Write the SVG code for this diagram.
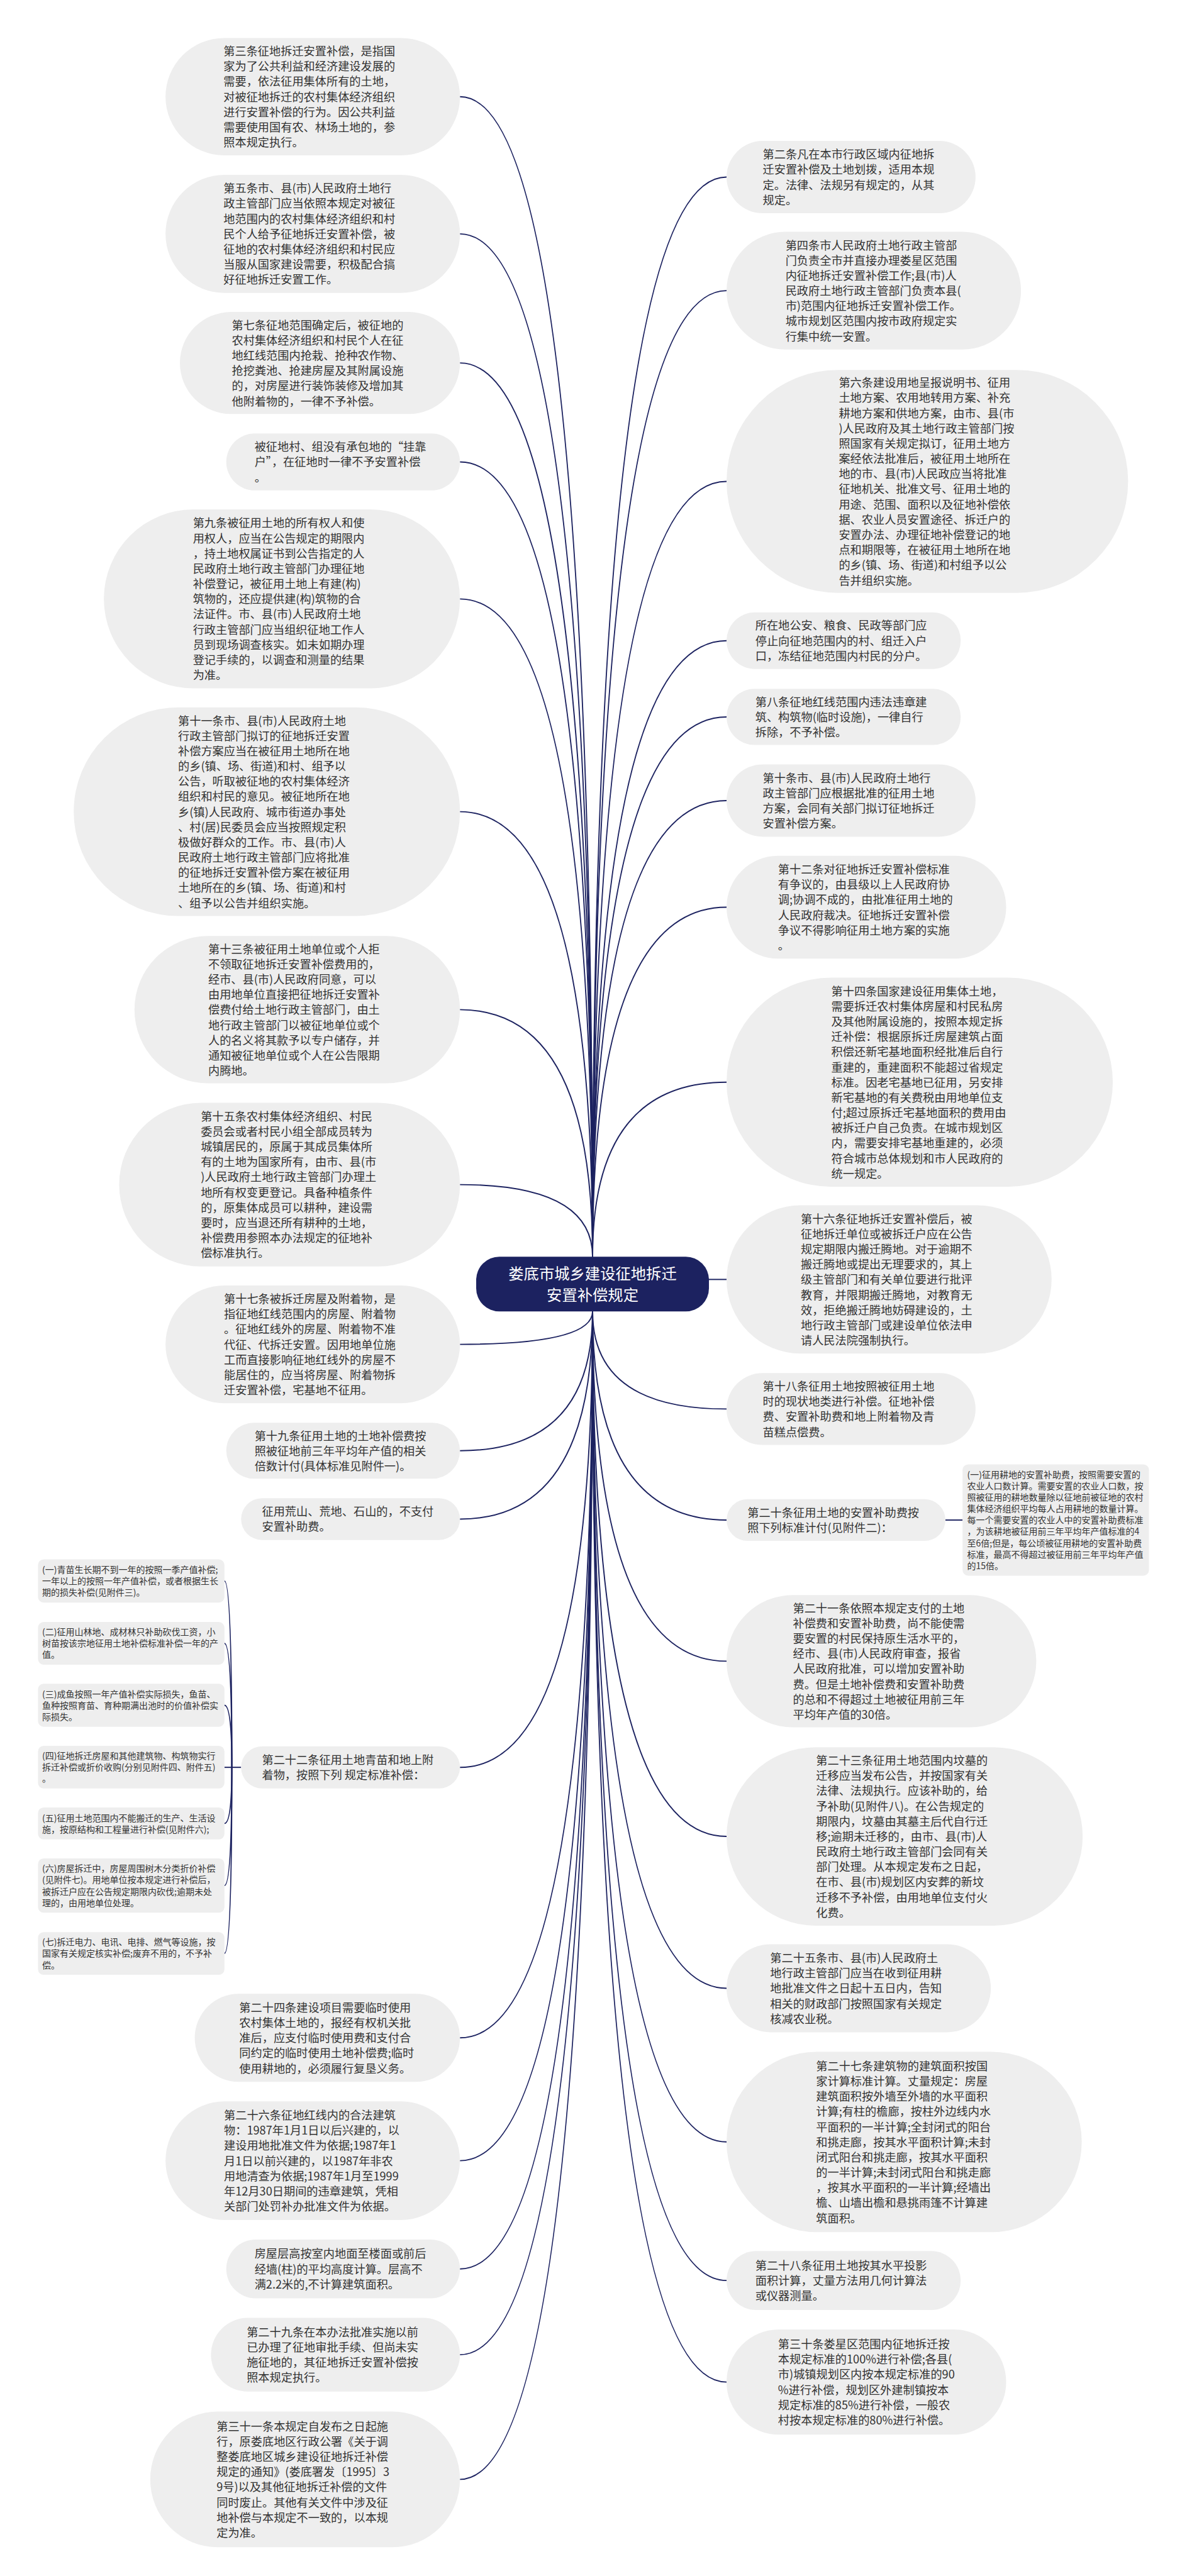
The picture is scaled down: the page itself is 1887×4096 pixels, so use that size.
<svg xmlns="http://www.w3.org/2000/svg" width="1887" height="4096" viewBox="0 0 1887 4096">
<style>
.n rect{fill:#eeeeee}
.s rect{fill:#eeeeee}
.t{font-family:"Noto Sans CJK SC","Noto Sans",sans-serif;font-size:24.7px;fill:#333333}
.st{font-family:"Noto Sans CJK SC","Noto Sans",sans-serif;font-size:19px;fill:#333333}
.rt{font-family:"Noto Sans CJK SC","Noto Sans",sans-serif;font-size:33px;fill:#ffffff}
.c path{fill:none;stroke:#1c2260;stroke-width:2.6}
</style>
<rect width="1887" height="4096" fill="#ffffff"/>
<g transform="scale(0.7371)">
<g id="connectors" class="c">
<path d="M1278 2711 Q1278 208.5 992 208.5"/>
<path d="M1278 2711 Q1278 504.5 992 504.5"/>
<path d="M1278 2711 Q1278 783 992 783"/>
<path d="M1278 2711 Q1278 996.5 992 996.5"/>
<path d="M1278 2711 Q1278 1292 992 1292"/>
<path d="M1278 2711 Q1278 1751 992 1751"/>
<path d="M1278 2711 Q1278 2178 992 2178"/>
<path d="M1278 2711 Q1278 2555.5 992 2555.5"/>
<path d="M1278 2829 Q1278 2900 992 2900"/>
<path d="M1278 2829 Q1278 3129.5 992 3129.5"/>
<path d="M1278 2829 Q1278 3277 992 3277"/>
<path d="M1278 2829 Q1278 3812.5 992 3812.5"/>
<path d="M1278 2829 Q1278 4396 992 4396"/>
<path d="M1278 2829 Q1278 4661 992 4661"/>
<path d="M1278 2829 Q1278 4894.5 992 4894.5"/>
<path d="M1278 2829 Q1278 5079.5 992 5079.5"/>
<path d="M1278 2829 Q1278 5348.5 992 5348.5"/>
<path d="M1278 2711 Q1278 382 1567 382"/>
<path d="M1278 2711 Q1278 627 1567 627"/>
<path d="M1278 2711 Q1278 1038.5 1567 1038.5"/>
<path d="M1278 2711 Q1278 1382 1567 1382"/>
<path d="M1278 2711 Q1278 1546.5 1567 1546.5"/>
<path d="M1278 2711 Q1278 1727 1567 1727"/>
<path d="M1278 2711 Q1278 1957 1567 1957"/>
<path d="M1278 2711 Q1278 2334.5 1567 2334.5"/>
<path d="M1529 2760 H1567"/>
<path d="M1278 2829 Q1278 3039.5 1567 3039.5"/>
<path d="M1278 2829 Q1278 3279 1567 3279"/>
<path d="M1278 2829 Q1278 3583.5 1567 3583.5"/>
<path d="M1278 2829 Q1278 3961.5 1567 3961.5"/>
<path d="M1278 2829 Q1278 4289 1567 4289"/>
<path d="M1278 2829 Q1278 4620.5 1567 4620.5"/>
<path d="M1278 2829 Q1278 4919.5 1567 4919.5"/>
<path d="M1278 2829 Q1278 5138.5 1567 5138.5"/>
<path d="M520 3812.5 H500"/>
<path d="M500 3812.5 Q500 3410.5 484 3410.5"/>
<path d="M500 3812.5 Q500 3545 484 3545"/>
<path d="M500 3812.5 Q500 3678.5 484 3678.5"/>
<path d="M500 3812.5 H484"/>
<path d="M500 3812.5 Q500 3933.5 484 3933.5"/>
<path d="M500 3812.5 Q500 4067.5 484 4067.5"/>
<path d="M500 3812.5 Q500 4214 484 4214"/>
<path d="M2039 3279 H2076"/>
</g>

<g id="root">
<rect x="1027" y="2711" width="502" height="118" rx="50" fill="#1c2260"/>
<text class="rt" text-anchor="middle" x="1278" y="2759.5">娄底市城乡建设征地拆迁<tspan x="1278" dy="46">安置补偿规定</tspan></text>
</g>

<g id="n-l1" class="n"><rect x="357" y="82" width="635" height="253" rx="126.5"/>
<text class="t" x="482" y="119.5"><tspan x="482">第三条征地拆迁安置补偿，是指国</tspan><tspan x="482" dy="32.8">家为了公共利益和经济建设发展的</tspan><tspan x="482" dy="32.8">需要，依法征用集体所有的土地，</tspan><tspan x="482" dy="32.8">对被征地拆迁的农村集体经济组织</tspan><tspan x="482" dy="32.8">进行安置补偿的行为。因公共利益</tspan><tspan x="482" dy="32.8">需要使用国有农、林场土地的，参</tspan><tspan x="482" dy="32.8">照本规定执行。</tspan></text></g>

<g id="n-l2" class="n"><rect x="357" y="377" width="635" height="255" rx="127.5"/>
<text class="t" x="482" y="415.5"><tspan x="482">第五条市、县(市)人民政府土地行</tspan><tspan x="482" dy="32.8">政主管部门应当依照本规定对被征</tspan><tspan x="482" dy="32.8">地范围内的农村集体经济组织和村</tspan><tspan x="482" dy="32.8">民个人给予征地拆迁安置补偿，被</tspan><tspan x="482" dy="32.8">征地的农村集体经济组织和村民应</tspan><tspan x="482" dy="32.8">当服从国家建设需要，积极配合搞</tspan><tspan x="482" dy="32.8">好征地拆迁安置工作。</tspan></text></g>

<g id="n-l3" class="n"><rect x="388" y="673" width="604" height="220" rx="110"/>
<text class="t" x="500" y="710.4"><tspan x="500">第七条征地范围确定后，被征地的</tspan><tspan x="500" dy="32.8">农村集体经济组织和村民个人在征</tspan><tspan x="500" dy="32.8">地红线范围内抢栽、抢种农作物、</tspan><tspan x="500" dy="32.8">抢挖粪池、抢建房屋及其附属设施</tspan><tspan x="500" dy="32.8">的，对房屋进行装饰装修及增加其</tspan><tspan x="500" dy="32.8">他附着物的，一律不予补偿。</tspan></text></g>

<g id="n-l4" class="n"><rect x="488" y="935" width="504" height="123" rx="61.5"/>
<text class="t" x="549" y="973.1"><tspan x="549">被征地村、组没有承包地的“挂靠</tspan><tspan x="549" dy="32.8">户”，在征地时一律不予安置补偿</tspan><tspan x="549" dy="32.8">。</tspan></text></g>

<g id="n-l5" class="n"><rect x="224" y="1099" width="768" height="386" rx="193"/>
<text class="t" x="416" y="1137.4"><tspan x="416">第九条被征用土地的所有权人和使</tspan><tspan x="416" dy="32.8">用权人，应当在公告规定的期限内</tspan><tspan x="416" dy="32.8">，持土地权属证书到公告指定的人</tspan><tspan x="416" dy="32.8">民政府土地行政主管部门办理征地</tspan><tspan x="416" dy="32.8">补偿登记，被征用土地上有建(构)</tspan><tspan x="416" dy="32.8">筑物的，还应提供建(构)筑物的合</tspan><tspan x="416" dy="32.8">法证件。市、县(市)人民政府土地</tspan><tspan x="416" dy="32.8">行政主管部门应当组织征地工作人</tspan><tspan x="416" dy="32.8">员到现场调查核实。如未如期办理</tspan><tspan x="416" dy="32.8">登记手续的，以调查和测量的结果</tspan><tspan x="416" dy="32.8">为准。</tspan></text></g>

<g id="n-l6" class="n"><rect x="159" y="1526" width="833" height="450" rx="225"/>
<text class="t" x="384" y="1563.6"><tspan x="384">第十一条市、县(市)人民政府土地</tspan><tspan x="384" dy="32.8">行政主管部门拟订的征地拆迁安置</tspan><tspan x="384" dy="32.8">补偿方案应当在被征用土地所在地</tspan><tspan x="384" dy="32.8">的乡(镇、场、街道)和村、组予以</tspan><tspan x="384" dy="32.8">公告，听取被征地的农村集体经济</tspan><tspan x="384" dy="32.8">组织和村民的意见。被征地所在地</tspan><tspan x="384" dy="32.8">乡(镇)人民政府、城市街道办事处</tspan><tspan x="384" dy="32.8">、村(居)民委员会应当按照规定积</tspan><tspan x="384" dy="32.8">极做好群众的工作。市、县(市)人</tspan><tspan x="384" dy="32.8">民政府土地行政主管部门应将批准</tspan><tspan x="384" dy="32.8">的征地拆迁安置补偿方案在被征用</tspan><tspan x="384" dy="32.8">土地所在的乡(镇、场、街道)和村</tspan><tspan x="384" dy="32.8">、组予以公告并组织实施。</tspan></text></g>

<g id="n-l7" class="n"><rect x="290" y="2019" width="702" height="318" rx="159"/>
<text class="t" x="449" y="2056.2"><tspan x="449">第十三条被征用土地单位或个人拒</tspan><tspan x="449" dy="32.8">不领取征地拆迁安置补偿费用的，</tspan><tspan x="449" dy="32.8">经市、县(市)人民政府同意，可以</tspan><tspan x="449" dy="32.8">由用地单位直接把征地拆迁安置补</tspan><tspan x="449" dy="32.8">偿费付给土地行政主管部门，由土</tspan><tspan x="449" dy="32.8">地行政主管部门以被征地单位或个</tspan><tspan x="449" dy="32.8">人的名义将其款予以专户储存，并</tspan><tspan x="449" dy="32.8">通知被征地单位或个人在公告限期</tspan><tspan x="449" dy="32.8">内腾地。</tspan></text></g>

<g id="n-l8" class="n"><rect x="257" y="2379" width="735" height="353" rx="176.5"/>
<text class="t" x="433" y="2417.3"><tspan x="433">第十五条农村集体经济组织、村民</tspan><tspan x="433" dy="32.8">委员会或者村民小组全部成员转为</tspan><tspan x="433" dy="32.8">城镇居民的，原属于其成员集体所</tspan><tspan x="433" dy="32.8">有的土地为国家所有，由市、县(市</tspan><tspan x="433" dy="32.8">)人民政府土地行政主管部门办理土</tspan><tspan x="433" dy="32.8">地所有权变更登记。具备种植条件</tspan><tspan x="433" dy="32.8">的，原集体成员可以耕种，建设需</tspan><tspan x="433" dy="32.8">要时，应当退还所有耕种的土地，</tspan><tspan x="433" dy="32.8">补偿费用参照本办法规定的征地补</tspan><tspan x="433" dy="32.8">偿标准执行。</tspan></text></g>

<g id="n-l9" class="n"><rect x="357" y="2773" width="635" height="254" rx="127"/>
<text class="t" x="483" y="2811"><tspan x="483">第十七条被拆迁房屋及附着物，是</tspan><tspan x="483" dy="32.8">指征地红线范围内的房屋、附着物</tspan><tspan x="483" dy="32.8">。征地红线外的房屋、附着物不准</tspan><tspan x="483" dy="32.8">代征、代拆迁安置。因用地单位施</tspan><tspan x="483" dy="32.8">工而直接影响征地红线外的房屋不</tspan><tspan x="483" dy="32.8">能居住的，应当将房屋、附着物拆</tspan><tspan x="483" dy="32.8">迁安置补偿，宅基地不征用。</tspan></text></g>

<g id="n-l10" class="n"><rect x="488" y="3069" width="504" height="121" rx="60.5"/>
<text class="t" x="549" y="3106.1"><tspan x="549">第十九条征用土地的土地补偿费按</tspan><tspan x="549" dy="32.8">照被征地前三年平均年产值的相关</tspan><tspan x="549" dy="32.8">倍数计付(具体标准见附件一)。</tspan></text></g>

<g id="n-l11" class="n"><rect x="520" y="3232" width="472" height="90" rx="45"/>
<text class="t" x="565" y="3270"><tspan x="565">征用荒山、荒地、石山的，不支付</tspan><tspan x="565" dy="32.8">安置补助费。</tspan></text></g>

<g id="n-l12" class="n"><rect x="520" y="3767" width="472" height="91" rx="45.5"/>
<text class="t" x="565" y="3805.5"><tspan x="565">第二十二条征用土地青苗和地上附</tspan><tspan x="565" dy="32.8">着物，按照下列 规定标准补偿：</tspan></text></g>

<g id="n-c1" class="s"><rect x="82" y="3364" width="402" height="93" rx="12"/>
<text class="st" x="91" y="3393.1"><tspan x="91">(一)青苗生长期不到一年的按照一季产值补偿;</tspan><tspan x="91" dy="24.6">一年以上的按照一年产值补偿，或者根据生长</tspan><tspan x="91" dy="24.6">期的损失补偿(见附件三)。</tspan></text></g>

<g id="n-c2" class="s"><rect x="82" y="3499" width="402" height="92" rx="12"/>
<text class="st" x="91" y="3527.6"><tspan x="91">(二)征用山林地、成材林只补助砍伐工资，小</tspan><tspan x="91" dy="24.6">树苗按该宗地征用土地补偿标准补偿一年的产</tspan><tspan x="91" dy="24.6">值。</tspan></text></g>

<g id="n-c3" class="s"><rect x="82" y="3632" width="402" height="93" rx="12"/>
<text class="st" x="91" y="3661.1"><tspan x="91">(三)成鱼按照一年产值补偿实际损失，鱼苗、</tspan><tspan x="91" dy="24.6">鱼种按照育苗、育种期满出池时的价值补偿实</tspan><tspan x="91" dy="24.6">际损失。</tspan></text></g>

<g id="n-c4" class="s"><rect x="82" y="3766" width="402" height="92" rx="12"/>
<text class="st" x="91" y="3794.6"><tspan x="91">(四)征地拆迁房屋和其他建筑物、构筑物实行</tspan><tspan x="91" dy="24.6">拆迁补偿或折价收购(分别见附件四、附件五)</tspan><tspan x="91" dy="24.6">。</tspan></text></g>

<g id="n-c5" class="s"><rect x="82" y="3899" width="402" height="69" rx="12"/>
<text class="st" x="91" y="3928.4"><tspan x="91">(五)征用土地范围内不能搬迁的生产、生活设</tspan><tspan x="91" dy="24.6">施，按原结构和工程量进行补偿(见附件六);</tspan></text></g>

<g id="n-c6" class="s"><rect x="82" y="4009" width="402" height="117" rx="12"/>
<text class="st" x="91" y="4037.8"><tspan x="91">(六)房屋拆迁中，房屋周围树木分类折价补偿</tspan><tspan x="91" dy="24.6">(见附件七)。用地单位按本规定进行补偿后，</tspan><tspan x="91" dy="24.6">被拆迁户应在公告规定期限内砍伐;逾期未处</tspan><tspan x="91" dy="24.6">理的，由用地单位处理。</tspan></text></g>

<g id="n-c7" class="s"><rect x="82" y="4168" width="402" height="92" rx="12"/>
<text class="st" x="91" y="4196.6"><tspan x="91">(七)拆迁电力、电讯、电排、燃气等设施，按</tspan><tspan x="91" dy="24.6">国家有关规定核实补偿;废弃不用的，不予补</tspan><tspan x="91" dy="24.6">偿。</tspan></text></g>

<g id="n-l13" class="n"><rect x="420" y="4301" width="572" height="190" rx="95"/>
<text class="t" x="516" y="4339.8"><tspan x="516">第二十四条建设项目需要临时使用</tspan><tspan x="516" dy="32.8">农村集体土地的，报经有权机关批</tspan><tspan x="516" dy="32.8">准后，应支付临时使用费和支付合</tspan><tspan x="516" dy="32.8">同约定的临时使用土地补偿费;临时</tspan><tspan x="516" dy="32.8">使用耕地的，必须履行复垦义务。</tspan></text></g>

<g id="n-l14" class="n"><rect x="357" y="4533" width="635" height="256" rx="128"/>
<text class="t" x="483" y="4572"><tspan x="483">第二十六条征地红线内的合法建筑</tspan><tspan x="483" dy="32.8">物：1987年1月1日以后兴建的，以</tspan><tspan x="483" dy="32.8">建设用地批准文件为依据;1987年1</tspan><tspan x="483" dy="32.8">月1日以前兴建的，以1987年非农</tspan><tspan x="483" dy="32.8">用地清查为依据;1987年1月至1999</tspan><tspan x="483" dy="32.8">年12月30日期间的违章建筑，凭相</tspan><tspan x="483" dy="32.8">关部门处罚补办批准文件为依据。</tspan></text></g>

<g id="n-l15" class="n"><rect x="488" y="4831" width="504" height="127" rx="63.5"/>
<text class="t" x="549" y="4871.1"><tspan x="549">房屋层高按室内地面至楼面或前后</tspan><tspan x="549" dy="32.8">经墙(柱)的平均高度计算。层高不</tspan><tspan x="549" dy="32.8">满2.2米的,不计算建筑面积。</tspan></text></g>

<g id="n-l16" class="n"><rect x="455" y="5000" width="537" height="159" rx="79.5"/>
<text class="t" x="532" y="5039.7"><tspan x="532">第二十九条在本办法批准实施以前</tspan><tspan x="532" dy="32.8">已办理了征地审批手续、但尚未实</tspan><tspan x="532" dy="32.8">施征地的，其征地拆迁安置补偿按</tspan><tspan x="532" dy="32.8">照本规定执行。</tspan></text></g>

<g id="n-l17" class="n"><rect x="324" y="5202" width="668" height="293" rx="146.5"/>
<text class="t" x="467" y="5243.1"><tspan x="467">第三十一条本规定自发布之日起施</tspan><tspan x="467" dy="32.8">行，原娄底地区行政公署《关于调</tspan><tspan x="467" dy="32.8">整娄底地区城乡建设征地拆迁补偿</tspan><tspan x="467" dy="32.8">规定的通知》(娄底署发〔1995〕3</tspan><tspan x="467" dy="32.8">9号)以及其他征地拆迁补偿的文件</tspan><tspan x="467" dy="32.8">同时废止。其他有关文件中涉及征</tspan><tspan x="467" dy="32.8">地补偿与本规定不一致的，以本规</tspan><tspan x="467" dy="32.8">定为准。</tspan></text></g>

<g id="n-r1" class="n"><rect x="1567" y="304" width="537" height="156" rx="78"/>
<text class="t" x="1645" y="342.2"><tspan x="1645">第二条凡在本市行政区域内征地拆</tspan><tspan x="1645" dy="32.8">迁安置补偿及土地划拨，适用本规</tspan><tspan x="1645" dy="32.8">定。法律、法规另有规定的，从其</tspan><tspan x="1645" dy="32.8">规定。</tspan></text></g>

<g id="n-r2" class="n"><rect x="1567" y="500" width="635" height="254" rx="127"/>
<text class="t" x="1694" y="538"><tspan x="1694">第四条市人民政府土地行政主管部</tspan><tspan x="1694" dy="32.8">门负责全市并直接办理娄星区范围</tspan><tspan x="1694" dy="32.8">内征地拆迁安置补偿工作;县(市)人</tspan><tspan x="1694" dy="32.8">民政府土地行政主管部门负责本县(</tspan><tspan x="1694" dy="32.8">市)范围内征地拆迁安置补偿工作。</tspan><tspan x="1694" dy="32.8">城市规划区范围内按市政府规定实</tspan><tspan x="1694" dy="32.8">行集中统一安置。</tspan></text></g>

<g id="n-r3" class="n"><rect x="1567" y="798" width="866" height="481" rx="240.5"/>
<text class="t" x="1809" y="834.7"><tspan x="1809">第六条建设用地呈报说明书、征用</tspan><tspan x="1809" dy="32.8">土地方案、农用地转用方案、补充</tspan><tspan x="1809" dy="32.8">耕地方案和供地方案，由市、县(市</tspan><tspan x="1809" dy="32.8">)人民政府及其土地行政主管部门按</tspan><tspan x="1809" dy="32.8">照国家有关规定拟订，征用土地方</tspan><tspan x="1809" dy="32.8">案经依法批准后，被征用土地所在</tspan><tspan x="1809" dy="32.8">地的市、县(市)人民政应当将批准</tspan><tspan x="1809" dy="32.8">征地机关、批准文号、征用土地的</tspan><tspan x="1809" dy="32.8">用途、范围、面积以及征地补偿依</tspan><tspan x="1809" dy="32.8">据、农业人员安置途径、拆迁户的</tspan><tspan x="1809" dy="32.8">安置办法、办理征地补偿登记的地</tspan><tspan x="1809" dy="32.8">点和期限等，在被征用土地所在地</tspan><tspan x="1809" dy="32.8">的乡(镇、场、街道)和村组予以公</tspan><tspan x="1809" dy="32.8">告并组织实施。</tspan></text></g>

<g id="n-r4" class="n"><rect x="1567" y="1321" width="505" height="122" rx="61"/>
<text class="t" x="1629" y="1358.6"><tspan x="1629">所在地公安、粮食、民政等部门应</tspan><tspan x="1629" dy="32.8">停止向征地范围内的村、组迁入户</tspan><tspan x="1629" dy="32.8">口，冻结征地范围内村民的分户。</tspan></text></g>

<g id="n-r5" class="n"><rect x="1567" y="1486" width="505" height="121" rx="60.5"/>
<text class="t" x="1629" y="1523.1"><tspan x="1629">第八条征地红线范围内违法违章建</tspan><tspan x="1629" dy="32.8">筑、构筑物(临时设施)，一律自行</tspan><tspan x="1629" dy="32.8">拆除，不予补偿。</tspan></text></g>

<g id="n-r6" class="n"><rect x="1567" y="1649" width="537" height="156" rx="78"/>
<text class="t" x="1645" y="1687.2"><tspan x="1645">第十条市、县(市)人民政府土地行</tspan><tspan x="1645" dy="32.8">政主管部门应根据批准的征用土地</tspan><tspan x="1645" dy="32.8">方案，会同有关部门拟订征地拆迁</tspan><tspan x="1645" dy="32.8">安置补偿方案。</tspan></text></g>

<g id="n-r7" class="n"><rect x="1567" y="1846" width="603" height="222" rx="111"/>
<text class="t" x="1678" y="1884.4"><tspan x="1678">第十二条对征地拆迁安置补偿标准</tspan><tspan x="1678" dy="32.8">有争议的，由县级以上人民政府协</tspan><tspan x="1678" dy="32.8">调;协调不成的，由批准征用土地的</tspan><tspan x="1678" dy="32.8">人民政府裁决。征地拆迁安置补偿</tspan><tspan x="1678" dy="32.8">争议不得影响征用土地方案的实施</tspan><tspan x="1678" dy="32.8">。</tspan></text></g>

<g id="n-r8" class="n"><rect x="1567" y="2109" width="833" height="451" rx="225.5"/>
<text class="t" x="1793" y="2147.1"><tspan x="1793">第十四条国家建设征用集体土地，</tspan><tspan x="1793" dy="32.8">需要拆迁农村集体房屋和村民私房</tspan><tspan x="1793" dy="32.8">及其他附属设施的，按照本规定拆</tspan><tspan x="1793" dy="32.8">迁补偿：根据原拆迁房屋建筑占面</tspan><tspan x="1793" dy="32.8">积偿还新宅基地面积经批准后自行</tspan><tspan x="1793" dy="32.8">重建的，重建面积不能超过省规定</tspan><tspan x="1793" dy="32.8">标准。因老宅基地已征用，另安排</tspan><tspan x="1793" dy="32.8">新宅基地的有关费税由用地单位支</tspan><tspan x="1793" dy="32.8">付;超过原拆迁宅基地面积的费用由</tspan><tspan x="1793" dy="32.8">被拆迁户自己负责。在城市规划区</tspan><tspan x="1793" dy="32.8">内，需要安排宅基地重建的，必须</tspan><tspan x="1793" dy="32.8">符合城市总体规划和市人民政府的</tspan><tspan x="1793" dy="32.8">统一规定。</tspan></text></g>

<g id="n-r9" class="n"><rect x="1567" y="2600" width="701" height="320" rx="160"/>
<text class="t" x="1727" y="2638.2"><tspan x="1727">第十六条征地拆迁安置补偿后，被</tspan><tspan x="1727" dy="32.8">征地拆迁单位或被拆迁户应在公告</tspan><tspan x="1727" dy="32.8">规定期限内搬迁腾地。对于逾期不</tspan><tspan x="1727" dy="32.8">搬迁腾地或提出无理要求的，其上</tspan><tspan x="1727" dy="32.8">级主管部门和有关单位要进行批评</tspan><tspan x="1727" dy="32.8">教育，并限期搬迁腾地，对教育无</tspan><tspan x="1727" dy="32.8">效，拒绝搬迁腾地妨碍建设的，土</tspan><tspan x="1727" dy="32.8">地行政主管部门或建设单位依法申</tspan><tspan x="1727" dy="32.8">请人民法院强制执行。</tspan></text></g>

<g id="n-r10" class="n"><rect x="1567" y="2962" width="537" height="155" rx="77.5"/>
<text class="t" x="1645" y="2999.7"><tspan x="1645">第十八条征用土地按照被征用土地</tspan><tspan x="1645" dy="32.8">时的现状地类进行补偿。征地补偿</tspan><tspan x="1645" dy="32.8">费、安置补助费和地上附着物及青</tspan><tspan x="1645" dy="32.8">苗糕点偿费。</tspan></text></g>

<g id="n-r11" class="n"><rect x="1567" y="3234" width="472" height="90" rx="45"/>
<text class="t" x="1612" y="3272"><tspan x="1612">第二十条征用土地的安置补助费按</tspan><tspan x="1612" dy="32.8">照下列标准计付(见附件二)：</tspan></text></g>

<g id="n-r11c" class="s"><rect x="2076" y="3159" width="402" height="240" rx="12"/>
<text class="st" x="2086" y="3187.8"><tspan x="2086">(一)征用耕地的安置补助费，按照需要安置的</tspan><tspan x="2086" dy="24.6">农业人口数计算。需要安置的农业人口数，按</tspan><tspan x="2086" dy="24.6">照被征用的耕地数量除以征地前被征地的农村</tspan><tspan x="2086" dy="24.6">集体经济组织平均每人占用耕地的数量计算。</tspan><tspan x="2086" dy="24.6">每一个需要安置的农业人中的安置补助费标准</tspan><tspan x="2086" dy="24.6">，为该耕地被征用前三年平均年产值标准的4</tspan><tspan x="2086" dy="24.6">至6倍;但是，每公顷被征用耕地的安置补助费</tspan><tspan x="2086" dy="24.6">标准，最高不得超过被征用前三年平均年产值</tspan><tspan x="2086" dy="24.6">的15倍。</tspan></text></g>

<g id="n-r12" class="n"><rect x="1567" y="3441" width="668" height="285" rx="142.5"/>
<text class="t" x="1710" y="3478.1"><tspan x="1710">第二十一条依照本规定支付的土地</tspan><tspan x="1710" dy="32.8">补偿费和安置补助费，尚不能使需</tspan><tspan x="1710" dy="32.8">要安置的村民保持原生活水平的，</tspan><tspan x="1710" dy="32.8">经市、县(市)人民政府审查，报省</tspan><tspan x="1710" dy="32.8">人民政府批准，可以增加安置补助</tspan><tspan x="1710" dy="32.8">费。但是土地补偿费和安置补助费</tspan><tspan x="1710" dy="32.8">的总和不得超过土地被征用前三年</tspan><tspan x="1710" dy="32.8">平均年产值的30倍。</tspan></text></g>

<g id="n-r13" class="n"><rect x="1567" y="3769" width="768" height="385" rx="192.5"/>
<text class="t" x="1760" y="3806.9"><tspan x="1760">第二十三条征用土地范围内坟墓的</tspan><tspan x="1760" dy="32.8">迁移应当发布公告，并按国家有关</tspan><tspan x="1760" dy="32.8">法律、法规执行。应该补助的，给</tspan><tspan x="1760" dy="32.8">予补助(见附件八)。在公告规定的</tspan><tspan x="1760" dy="32.8">期限内，坟墓由其墓主后代自行迁</tspan><tspan x="1760" dy="32.8">移;逾期未迁移的，由市、县(市)人</tspan><tspan x="1760" dy="32.8">民政府土地行政主管部门会同有关</tspan><tspan x="1760" dy="32.8">部门处理。从本规定发布之日起，</tspan><tspan x="1760" dy="32.8">在市、县(市)规划区内安葬的新坟</tspan><tspan x="1760" dy="32.8">迁移不予补偿，由用地单位支付火</tspan><tspan x="1760" dy="32.8">化费。</tspan></text></g>

<g id="n-r14" class="n"><rect x="1567" y="4194" width="570" height="190" rx="95"/>
<text class="t" x="1661" y="4232.8"><tspan x="1661">第二十五条市、县(市)人民政府土</tspan><tspan x="1661" dy="32.8">地行政主管部门应当在收到征用耕</tspan><tspan x="1661" dy="32.8">地批准文件之日起十五日内，告知</tspan><tspan x="1661" dy="32.8">相关的财政部门按照国家有关规定</tspan><tspan x="1661" dy="32.8">核减农业税。</tspan></text></g>

<g id="n-r15" class="n"><rect x="1567" y="4426" width="766" height="389" rx="194.5"/>
<text class="t" x="1760" y="4465.9"><tspan x="1760">第二十七条建筑物的建筑面积按国</tspan><tspan x="1760" dy="32.8">家计算标准计算。丈量规定：房屋</tspan><tspan x="1760" dy="32.8">建筑面积按外墙至外墙的水平面积</tspan><tspan x="1760" dy="32.8">计算;有柱的檐廊，按柱外边线内水</tspan><tspan x="1760" dy="32.8">平面积的一半计算;全封闭式的阳台</tspan><tspan x="1760" dy="32.8">和挑走廊，按其水平面积计算;未封</tspan><tspan x="1760" dy="32.8">闭式阳台和挑走廊，按其水平面积</tspan><tspan x="1760" dy="32.8">的一半计算;未封闭式阳台和挑走廊</tspan><tspan x="1760" dy="32.8">，按其水平面积的一半计算;经墙出</tspan><tspan x="1760" dy="32.8">檐、山墙出檐和悬挑雨篷不计算建</tspan><tspan x="1760" dy="32.8">筑面积。</tspan></text></g>

<g id="n-r16" class="n"><rect x="1567" y="4856" width="505" height="127" rx="63.5"/>
<text class="t" x="1629" y="4896.1"><tspan x="1629">第二十八条征用土地按其水平投影</tspan><tspan x="1629" dy="32.8">面积计算，丈量方法用几何计算法</tspan><tspan x="1629" dy="32.8">或仪器测量。</tspan></text></g>

<g id="n-r17" class="n"><rect x="1567" y="5025" width="603" height="227" rx="113.5"/>
<text class="t" x="1678" y="5065.9"><tspan x="1678">第三十条娄星区范围内征地拆迁按</tspan><tspan x="1678" dy="32.8">本规定标准的100%进行补偿;各县(</tspan><tspan x="1678" dy="32.8">市)城镇规划区内按本规定标准的90</tspan><tspan x="1678" dy="32.8">%进行补偿，规划区外建制镇按本</tspan><tspan x="1678" dy="32.8">规定标准的85%进行补偿，一般农</tspan><tspan x="1678" dy="32.8">村按本规定标准的80%进行补偿。</tspan></text></g>
</g>
</svg>
